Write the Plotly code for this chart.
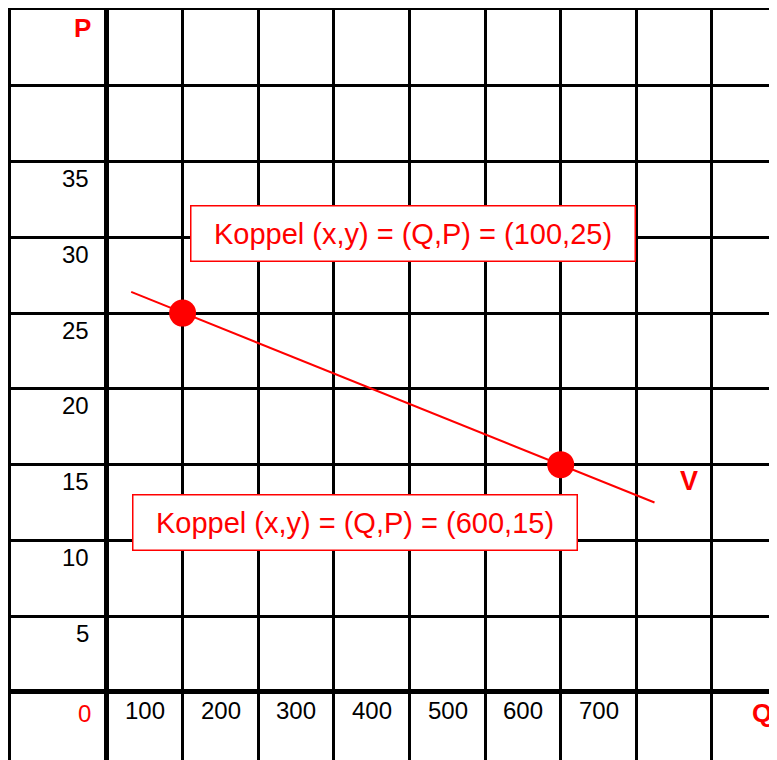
import plotly.graph_objects as go

# data
point_q = [100, 600]
point_p = [25, 15]
line_q = [32, 724]
line_p = [26.4, 12.5]
y_tick_vals = [5, 10, 15, 20, 25, 30, 35]
x_tick_vals = [100, 200, 300, 400, 500, 600, 700]
x_grid = [0, 100, 200, 300, 400, 500, 600, 700, 800]
y_grid = [0, 5, 10, 15, 20, 25, 30, 35, 40, 45]
box_texts = ["Koppel (x,y) = (Q,P) = (100,25)", "Koppel (x,y) = (Q,P) = (600,15)"]

RED = "#FF0000"
FONT = "Liberation Sans, Arial, sans-serif"

fig = go.Figure()
fig.add_trace(go.Scatter(
    x=line_q, y=line_p, mode="lines",
    line=dict(color=RED, width=2), hoverinfo="skip",
))
fig.add_trace(go.Scatter(
    x=point_q, y=point_p, mode="markers",
    marker=dict(color=RED, size=27),
))

ann = []
for v in y_tick_vals:
    ann.append(dict(x=-21, y=v, text=str(v), showarrow=False, xanchor="right",
                    yanchor="middle", yshift=-17, font=dict(size=24, color="black")))
for v in x_tick_vals:
    ann.append(dict(x=v, y=0, text=str(v), showarrow=False, xanchor="center",
                    yanchor="middle", xshift=-37.5, yshift=-19, font=dict(size=24, color="black")))
ann.append(dict(x=-30, y=-1.4, text="0", showarrow=False, font=dict(size=24, color=RED)))
ann.append(dict(x=-33, y=43.8, text="<b>P</b>", showarrow=False, font=dict(size=26, color=RED)))
ann.append(dict(x=866, y=-1.4, text="<b>Q</b>", showarrow=False, font=dict(size=26, color=RED)))
ann.append(dict(x=770, y=13.9, text="<b>V</b>", showarrow=False, font=dict(size=27, color=RED)))
for (bx, by), t in zip([(405, 30.24), (328, 11.2)], box_texts):
    ann.append(dict(x=bx, y=by, text=t, showarrow=False, width=443, height=54,
                    bgcolor="white", bordercolor=RED, borderwidth=1.5, borderpad=0,
                    font=dict(size=29, color=RED)))

axis_common = dict(
    showgrid=True, gridcolor="black", gridwidth=2.5,
    zeroline=True, zerolinecolor="black", zerolinewidth=5,
    showticklabels=False, ticks="", tickmode="array",
    showline=True, linecolor="black", linewidth=2.5,
)
# the page body adds an 8px offset, so size and margins are trimmed to compensate
fig.update_layout(
    width=769, height=752,
    margin=dict(l=3, r=0, t=2, b=0),
    paper_bgcolor="white", plot_bgcolor="white",
    font=dict(family=FONT),
    showlegend=False,
    xaxis=dict(range=[-126.9, 886], tickvals=x_grid, side="top", **axis_common),
    yaxis=dict(range=[-4.49, 45], tickvals=y_grid, **axis_common),
    annotations=ann,
)

fig.write_html("out.html")
